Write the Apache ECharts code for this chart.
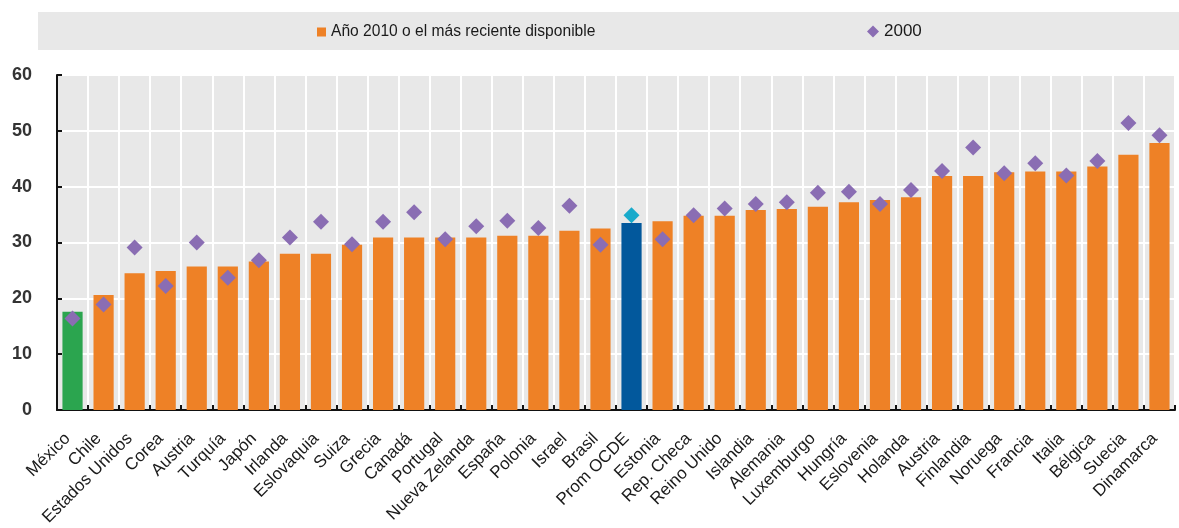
<!DOCTYPE html>
<html>
<head>
<meta charset="utf-8">
<script src="https://cdn.jsdelivr.net/npm/echarts@6/dist/echarts.min.js"></script>
<style>
html,body{margin:0;padding:0;background:#fff;}
#main{width:1179px;height:528px;}
</style>
</head>
<body>
<div id="main"></div>
<script>
const categories = ['México','Chile','Estados Unidos','Corea','Austria','Turquía','Japón','Irlanda','Eslovaquia','Suiza','Grecia','Canadá','Portugal','Nueva Zelanda','España','Polonia','Israel','Brasil','Prom OCDE','Estonia','Rep. Checa','Reino Unido','Islandia','Alemania','Luxemburgo','Hungría','Eslovenia','Holanda','Austria','Finlandia','Noruega','Francia','Italia','Bélgica','Suecia','Dinamarca'];
const values2010 = [17.6,20.6,24.5,24.9,25.7,25.7,26.6,28.0,28.0,29.6,30.9,30.9,30.9,30.9,31.2,31.2,32.1,32.5,33.5,33.8,34.8,34.8,35.8,36.0,36.4,37.2,37.6,38.1,41.9,41.9,42.6,42.7,42.7,43.6,45.7,47.8];
const values2000 = [16.4,18.9,29.1,22.2,30.0,23.7,26.8,30.9,33.7,29.7,33.7,35.4,30.6,32.9,33.9,32.6,36.6,29.6,34.9,30.6,34.9,36.1,36.9,37.2,38.9,39.1,36.9,39.4,42.8,47.0,42.4,44.2,42.0,44.6,51.4,49.2];
const yTicks = [0,10,20,30,40,50,60];
const seriesNames = ['Año 2010 o el más reciente disponible','2000'];

const ORANGE = '#ee8126', GREEN = '#2ba54f', BLUE = '#02589c', PURPLE = '#8a6db3', CYAN = '#18aacb';
const barColor = {'México': GREEN, 'Prom OCDE': BLUE};
const dotColor = {'Prom OCDE': CYAN};
const FONT = '"Liberation Sans", Arial, sans-serif';

const chart = echarts.init(document.getElementById('main'), null, {renderer:'canvas'});
chart.setOption({
  animation:false,
  backgroundColor:'#ffffff',
  graphic:[{type:'rect', shape:{x:38,y:12,width:1141,height:38}, style:{fill:'#e8e8e8'}, z:-1}],
  legend:[
    {data:[seriesNames[0]], left:317, top:24, padding:0, itemWidth:9, itemHeight:9, itemGap:6,
     icon:'rect', textStyle:{fontFamily:FONT, fontSize:15.6, color:'#1a1a1a'}},
    {data:[seriesNames[1]], left:867, top:23, padding:0, itemWidth:12, itemHeight:12, itemGap:4,
     icon:'diamond', textStyle:{fontFamily:FONT, fontSize:17, color:'#1a1a1a'}}
  ],
  grid:{left:57, right:4, top:75, bottom:118, show:true, backgroundColor:'#e8e8e8', borderWidth:0,
        containLabel:false, outerBoundsMode:'none'},
  xAxis:{
    type:'category', data:categories,
    axisLine:{show:true, lineStyle:{color:'#111', width:2}},
    axisTick:{show:true, inside:true, length:5, lineStyle:{color:'#111', width:2}},
    splitLine:{show:true, lineStyle:{color:'#ffffff', width:2}},
    axisLabel:{rotate:45, margin:21, padding:[0,7,0,0], interval:0, fontFamily:FONT, fontSize:17, color:'#1a1a1a'}
  },
  yAxis:{
    type:'value', min:0, max:60, interval:10,
    axisLine:{show:true, lineStyle:{color:'#111', width:2}},
    axisTick:{show:true, inside:true, length:5, lineStyle:{color:'#111', width:2}},
    splitLine:{show:true, lineStyle:{color:'#ffffff', width:2}},
    axisLabel:{margin:25, fontFamily:FONT, fontSize:18, fontWeight:'bold', color:'#333',
      formatter:v => yTicks.includes(v) ? String(v) : ''}
  },
  series:[
    {name:seriesNames[0], type:'bar', barWidth:'65%', itemStyle:{color:ORANGE},
     data: values2010.map((v,i)=>({value:v, itemStyle:{color: barColor[categories[i]] || ORANGE}}))},
    {name:seriesNames[1], type:'scatter', symbol:'diamond', symbolSize:16, itemStyle:{color:PURPLE, opacity:1}, z:5,
     data: values2000.map((v,i)=>({value:v, itemStyle:{color: dotColor[categories[i]] || PURPLE, opacity:1}}))}
  ]
});
</script>
</body>
</html>
